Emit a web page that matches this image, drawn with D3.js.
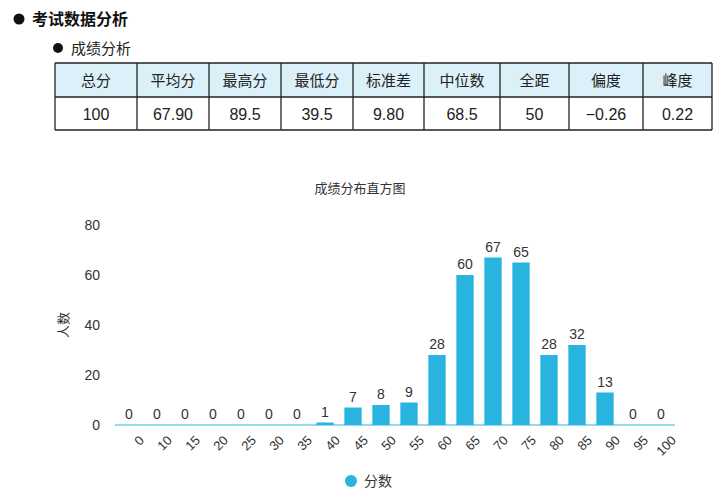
<!DOCTYPE html>
<html><head><meta charset="utf-8">
<script src="https://cdn.jsdelivr.net/npm/d3@7"></script>
<style>body{margin:0;background:#fff;font-family:"Liberation Sans","Noto Sans CJK SC",sans-serif}</style>
</head><body><svg id="c" width="720" height="498"></svg>
<script>
  // ---- Data ----
  const statHeaders = ['总分', '平均分', '最高分', '最低分', '标准差', '中位数', '全距', '偏度', '峰度'];
  const statValues = ['100', '67.90', '89.5', '39.5', '9.80', '68.5', '50', '\u22120.26', '0.22'];
  const colEdges = [55, 137, 209, 281, 353, 424, 500, 569, 643, 712];
  const categories = ['0', '10', '15', '20', '25', '30', '35', '40', '45', '50', '55', '60', '65', '70', '75', '80', '85', '90', '95', '100'];
  const counts = [0, 0, 0, 0, 0, 0, 0, 1, 7, 8, 9, 28, 60, 67, 65, 28, 32, 13, 0, 0];
  const yTicks = [0, 20, 40, 60, 80];

  const BLUE = '#29b4df';
  const svg = d3.select('#c');
  const font = '"Liberation Sans","Noto Sans CJK SC",sans-serif';

  // ---- Headings ----
  svg.append('circle').attr('cx', 19).attr('cy', 19).attr('r', 5.5).attr('fill', '#111');
  svg.append('text').attr('x', 32).attr('y', 25).text('考试数据分析')
    .attr('font-size', 16).attr('font-weight', 'bold').attr('fill', '#111').attr('font-family', font);
  svg.append('circle').attr('cx', 58).attr('cy', 48).attr('r', 5).attr('fill', '#111');
  svg.append('text').attr('x', 71).attr('y', 54).text('成绩分析')
    .attr('font-size', 15).attr('fill', '#222').attr('font-family', font);

  // ---- Table ----
  const rowTop = 63, rowMid = 97, rowBot = 130;
  svg.append('rect').attr('x', colEdges[0]).attr('y', rowTop)
    .attr('width', colEdges[9] - colEdges[0]).attr('height', rowMid - rowTop).attr('fill', '#dcf0f9');
  const t = svg.append('g').attr('stroke', '#222').attr('stroke-width', 1.3);
  [rowTop, rowMid, rowBot].forEach(function (yy) {
    t.append('line').attr('x1', colEdges[0]).attr('x2', colEdges[9]).attr('y1', yy).attr('y2', yy);
  });
  colEdges.forEach(function (xx) {
    t.append('line').attr('x1', xx).attr('x2', xx).attr('y1', rowTop).attr('y2', rowBot);
  });
  statHeaders.forEach(function (h, i) {
    const cx = (colEdges[i] + colEdges[i + 1]) / 2;
    svg.append('text').attr('x', cx).attr('y', 86).attr('text-anchor', 'middle')
      .attr('font-size', 15).attr('fill', '#222').attr('font-family', font).text(h);
    svg.append('text').attr('x', cx).attr('y', 120).attr('text-anchor', 'middle')
      .attr('font-size', 16).attr('fill', '#222').attr('font-family', font).text(statValues[i]);
  });

  // ---- Chart ----
  const x = d3.scaleBand().domain(categories).range([115, 675]).paddingInner(0.38).paddingOuter(0.19);
  const y = d3.scaleLinear().domain([0, 80]).range([425, 225]);

  svg.append('text').attr('x', 360).attr('y', 193).attr('text-anchor', 'middle')
    .attr('font-size', 13).attr('fill', '#333').attr('font-family', font).text('成绩分布直方图');

  const yAxis = svg.append('g').attr('transform', 'translate(103,0)')
    .call(d3.axisLeft(y).tickValues(yTicks).tickSize(0));
  yAxis.select('.domain').remove();
  yAxis.selectAll('text').attr('font-size', 14).attr('fill', '#333').attr('font-family', font);

  svg.append('text').attr('transform', 'translate(68,325) rotate(-90)').attr('text-anchor', 'middle')
    .attr('font-size', 13).attr('fill', '#333').attr('font-family', font).text('人数');

  svg.append('g').selectAll('rect').data(counts).enter().append('rect')
    .attr('x', function (d, i) { return x(categories[i]); })
    .attr('y', function (d) { return y(d); })
    .attr('width', x.bandwidth())
    .attr('height', function (d) { return y(0) - y(d); })
    .attr('fill', BLUE);

  svg.append('line').attr('x1', 115).attr('x2', 675).attr('y1', y(0)).attr('y2', y(0))
    .attr('stroke', BLUE).attr('stroke-width', 1.2);

  svg.append('g').selectAll('text').data(counts).enter().append('text')
    .attr('x', function (d, i) { return x(categories[i]) + x.bandwidth() / 2; })
    .attr('y', function (d) { return y(d) - 6; })
    .attr('text-anchor', 'middle').attr('font-size', 14).attr('fill', '#333').attr('font-family', font)
    .text(function (d) { return d; });

  const xAxis = svg.append('g').attr('transform', 'translate(0,' + y(0) + ')')
    .call(d3.axisBottom(x).tickSize(0));
  xAxis.select('.domain').remove();
  xAxis.selectAll('text').attr('font-size', 13).attr('fill', '#333').attr('font-family', font)
    .attr('text-anchor', 'end').attr('dx', '0.3em').attr('dy', '0.9em')
    .attr('transform', 'rotate(-45) translate(-4,8)');

  // ---- Legend ----
  svg.append('circle').attr('cx', 351).attr('cy', 481).attr('r', 6).attr('fill', BLUE);
  svg.append('text').attr('x', 364).attr('y', 486).attr('font-size', 14).attr('fill', '#333')
    .attr('font-family', font).text('分数');
</script></body></html>
